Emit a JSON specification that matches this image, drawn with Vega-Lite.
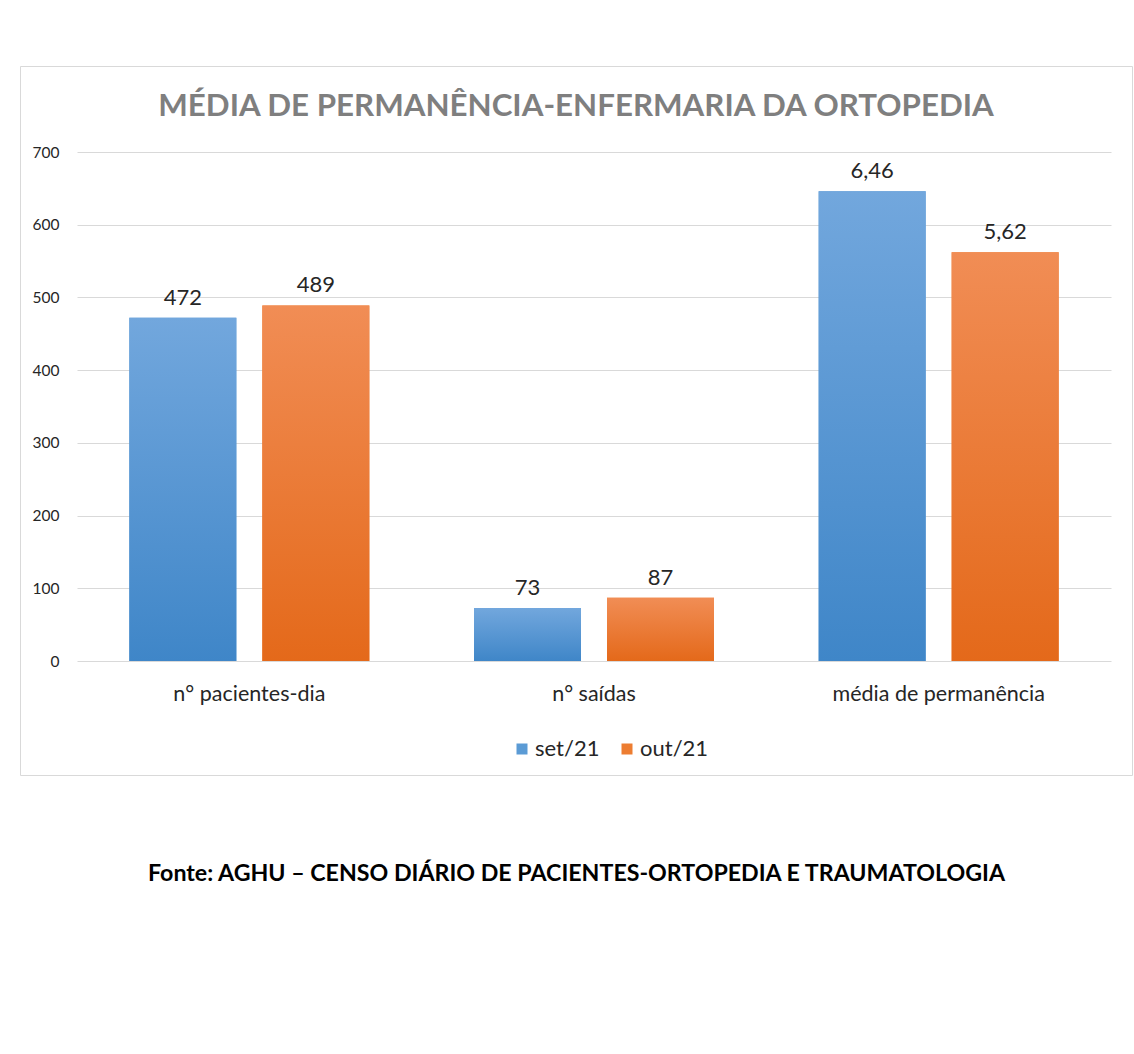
{
  "$schema": "https://vega.github.io/schema/vega-lite/v6.json",
  "autosize": "none",
  "width": 1112,
  "height": 709,
  "padding": {"left": 20, "top": 66, "right": 2, "bottom": 279},
  "background": "white",
  "view": {"stroke": "#d9d9d9", "strokeWidth": 1},
  "title": {
    "text": "MÉDIA DE PERMANÊNCIA-ENFERMARIA DA ORTOPEDIA",
    "font": "Lato",
    "fontSize": 31.3,
    "fontWeight": "bold",
    "color": "#7f7f7f",
    "anchor": "middle",
    "offset": -56
  },
  "data": {
    "values": [
      {"indicador": "n° pacientes-dia", "mes": "set/21", "valor": 472, "rotulo": "472"},
      {"indicador": "n° pacientes-dia", "mes": "out/21", "valor": 489, "rotulo": "489"},
      {"indicador": "n° saídas", "mes": "set/21", "valor": 73, "rotulo": "73"},
      {"indicador": "n° saídas", "mes": "out/21", "valor": 87, "rotulo": "87"},
      {"indicador": "média de permanência", "mes": "set/21", "valor": 646, "rotulo": "6,46"},
      {"indicador": "média de permanência", "mes": "out/21", "valor": 562, "rotulo": "5,62"}
    ]
  },
  "encoding": {
    "x": {
      "field": "indicador",
      "type": "nominal",
      "sort": null,
      "scale": {"range": [57, 1091], "paddingInner": 0, "paddingOuter": 0},
      "axis": {
        "orient": "bottom",
        "offset": -92,
        "labelAngle": 0,
        "labelFont": "Lato",
        "labelFontSize": 21.5,
        "labelColor": "#262626",
        "labelPadding": 0,
        "labelBaseline": "top",
        "labelLimit": 0,
        "domain": false,
        "ticks": false,
        "grid": false,
        "title": "Fonte: AGHU – CENSO DIÁRIO DE PACIENTES-ORTOPEDIA E TRAUMATOLOGIA",
        "titleFont": "Lato",
        "titleFontSize": 23.2,
        "titleFontWeight": "bold",
        "titleColor": "#000000",
        "titleX": 556,
        "titleY": 190,
        "titleAlign": "center",
        "titleBaseline": "middle"
      }
    },
    "xOffset": {
      "field": "mes",
      "type": "nominal",
      "scale": {"domain": ["set/21", "out/21"], "paddingInner": 0.1955, "paddingOuter": 0.3935}
    },
    "y": {
      "field": "valor",
      "type": "quantitative",
      "scale": {"domain": [0, 700], "range": [595, 86], "nice": false, "zero": true},
      "axis": {
        "orient": "left",
        "offset": -41,
        "values": [0, 100, 200, 300, 400, 500, 600, 700],
        "labelFont": "Lato",
        "labelFontSize": 15.5,
        "labelColor": "#262626",
        "labelPadding": 2,
        "domain": false,
        "ticks": false,
        "grid": true,
        "gridColor": "#d9d9d9",
        "gridWidth": 1,
        "title": null
      }
    }
  },
  "layer": [
    {
      "mark": {"type": "bar"},
      "encoding": {
        "color": {
          "field": "mes",
          "type": "nominal",
          "scale": {"domain": ["set/21", "out/21"], "range": ["#5b9bd5", "#ed7d31"]},
          "legend": {
            "orient": "none",
            "legendX": 491,
            "legendY": 672,
            "direction": "horizontal",
            "title": null,
            "symbolType": "square",
            "symbolSize": 121,
            "symbolStrokeWidth": 0,
            "labelFont": "Lato",
            "labelFontSize": 22,
            "labelColor": "#262626",
            "columnPadding": 16,
            "labelOffset": 2
          }
        }
      }
    },
    {
      "transform": [{"filter": "datum.mes === 'set/21'"}],
      "mark": {
        "type": "bar",
        "color": {
          "gradient": "linear",
          "x1": 0, "y1": 0, "x2": 0, "y2": 1,
          "stops": [
            {"offset": 0, "color": "#72a7dd"},
            {"offset": 1, "color": "#3f86c8"}
          ]
        }
      }
    },
    {
      "transform": [{"filter": "datum.mes === 'out/21'"}],
      "mark": {
        "type": "bar",
        "color": {
          "gradient": "linear",
          "x1": 0, "y1": 0, "x2": 0, "y2": 1,
          "stops": [
            {"offset": 0, "color": "#f18d55"},
            {"offset": 1, "color": "#e4691a"}
          ]
        }
      }
    },
    {
      "mark": {
        "type": "text",
        "baseline": "alphabetic",
        "align": "center",
        "dy": -13,
        "font": "Lato",
        "fontSize": 22,
        "color": "#262626"
      },
      "encoding": {
        "text": {"field": "rotulo", "type": "nominal"}
      }
    }
  ]
}
